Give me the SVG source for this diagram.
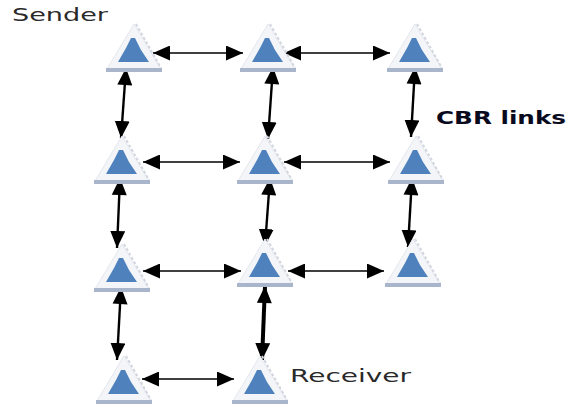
<svg xmlns="http://www.w3.org/2000/svg" width="568" height="408" viewBox="0 0 568 408">
<style>
.t{font-family:"DejaVu Sans",sans-serif;font-size:18px;fill:#2a2a2a}
.b{font-family:"DejaVu Sans",sans-serif;font-size:18px;font-weight:bold;fill:#0a0a1e}
.l{stroke:#000;stroke-width:1.6;fill:none;marker-start:url(#s);marker-end:url(#e)}
.v{stroke-width:2.4}
</style>
<defs>
<marker id="e" markerUnits="userSpaceOnUse" markerWidth="20" markerHeight="18" refX="17" refY="7.5" orient="auto"><path d="M0 0L17 7.500L0 15Z" fill="#000"/></marker>
<marker id="s" markerUnits="userSpaceOnUse" markerWidth="20" markerHeight="18" refX="0" refY="7.5" orient="auto"><path d="M17 0L0 7.500L17 15Z" fill="#000"/></marker>
<g id="n">
<path d="M-27 -1L0 -46L27 -1Z" fill="#f3f5f8" stroke="#e4e7ed" stroke-width="1"/>
<path d="M2 -46L27 -2" stroke="#d2d7e0" stroke-width="2" stroke-dasharray="3 2" fill="none"/>
<rect x="-28" y="-2" width="56" height="4" fill="#a9b5cb"/>
<path d="M-16 -8L-8 -22L-3 -32L1 -32L7 -20L15 -8Z" fill="#4f81bd"/>
</g>
</defs>
<rect width="568" height="408" fill="#fff"/>
<g id="connectors">
<path class="l" d="M153 53H243"/>
<path class="l" d="M284 53H390"/>
<path class="l" d="M143 162H240"/>
<path class="l" d="M284 162H390"/>
<path class="l" d="M143 271H241"/>
<path class="l" d="M288 271H384"/>
<path class="l" d="M142 379H234"/>
<path class="l v" d="M126 68L121 138"/>
<path class="l v" d="M273 67L268 139"/>
<path class="l v" d="M415 67L411 137"/>
<path class="l v" d="M120 178L117 248"/>
<path class="l v" d="M270 178L265 246"/>
<path class="l v" d="M412 178L408 247"/>
<path class="l v" d="M121 287L117 360"/>
<path class="l v" style="stroke-width:4" d="M265 286L262 360"/>
</g>
<g id="node-1-1"><use href="#n" x="134" y="70"/></g>
<g id="node-1-2"><use href="#n" x="268" y="70"/></g>
<g id="node-1-3"><use href="#n" x="415" y="70"/></g>
<g id="node-2-1"><use href="#n" x="122" y="182"/></g>
<g id="node-2-2"><use href="#n" x="265" y="182"/></g>
<g id="node-2-3"><use href="#n" x="416" y="182"/></g>
<g id="node-3-1"><use href="#n" x="122" y="290"/></g>
<g id="node-3-2"><use href="#n" x="265" y="285"/></g>
<g id="node-3-3"><use href="#n" x="413" y="285"/></g>
<g id="node-4-1"><use href="#n" x="124" y="402"/></g>
<g id="node-4-2"><use href="#n" x="260" y="402"/></g>
<text class="t" x="12" y="21" textLength="96" lengthAdjust="spacingAndGlyphs">Sender</text>
<text class="t" x="290" y="382" textLength="121" lengthAdjust="spacingAndGlyphs">Receiver</text>
<text class="b" x="436" y="124" textLength="130" lengthAdjust="spacingAndGlyphs">CBR links</text>
</svg>
